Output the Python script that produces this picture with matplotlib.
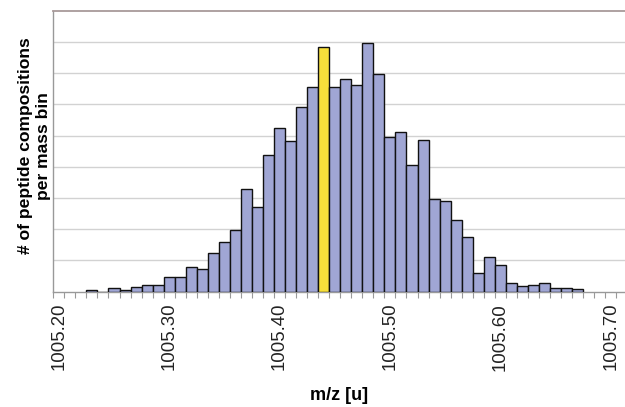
import matplotlib
matplotlib.use("Agg")
import matplotlib.pyplot as plt
from matplotlib.ticker import FixedLocator, FormatStrFormatter

plt.rcParams['font.family'] = ['Liberation Sans', 'DejaVu Sans']

# mass bins (bin centres, u) and bar heights (in grid-line units, no scale shown)
mz = [1005.23, 1005.24, 1005.25, 1005.26, 1005.27, 1005.28, 1005.29,
      1005.30, 1005.31, 1005.32, 1005.33, 1005.34, 1005.35, 1005.36,
      1005.37, 1005.38, 1005.39, 1005.40, 1005.41, 1005.42, 1005.43,
      1005.44, 1005.45, 1005.46, 1005.47, 1005.48, 1005.49, 1005.50,
      1005.51, 1005.52, 1005.53, 1005.54, 1005.55, 1005.56, 1005.57,
      1005.58, 1005.59, 1005.60, 1005.61, 1005.62, 1005.63, 1005.64,
      1005.65, 1005.66, 1005.67]
counts = [0.06, 0.0, 0.11, 0.06, 0.16, 0.20, 0.20,
          0.46, 0.46, 0.80, 0.72, 1.25, 1.60, 1.98,
          3.29, 2.70, 4.39, 5.24, 4.82, 5.92, 6.57,
          7.85, 6.57, 6.82, 6.61, 7.96, 6.98, 4.94,
          5.12, 4.06, 4.87, 2.96, 2.90, 2.30, 1.76,
          0.61, 1.12, 0.86, 0.29, 0.18, 0.21, 0.29,
          0.13, 0.13, 0.08]
highlight = 1005.44
tick_labels = [1005.20, 1005.30, 1005.40, 1005.50, 1005.60, 1005.70]

bar_color = '#a0a6d4'
hl_color = '#f7df3b'
colors = [hl_color if abs(m - highlight) < 1e-6 else bar_color for m in mz]

fig = plt.figure(figsize=(6.25, 4.07), dpi=100)
ax = fig.add_axes([0.0853, 0.2833, 0.9147, 0.6904])

ax.bar(mz, counts, width=0.01, color=colors, edgecolor='#111111',
       linewidth=1.0, zorder=3)

ax.set_xlim(1005.195, 1005.713)
ax.set_ylim(0, 9)

ax.yaxis.set_major_locator(FixedLocator(range(1, 9)))
ax.set_yticklabels([])
ax.tick_params(axis='y', length=0)
ax.grid(axis='y', color='#d2d2d2', linewidth=1.0, zorder=0)

ax.xaxis.set_major_locator(FixedLocator(tick_labels))
ax.xaxis.set_major_formatter(FormatStrFormatter('%.2f'))
edges = [1005.195 + 0.01 * j for j in range(53)]
ax.xaxis.set_minor_locator(FixedLocator(edges))
ax.tick_params(axis='x', which='major', length=0, pad=8, labelsize=13.4,
               labelrotation=90, labelcolor='#222222')
ax.tick_params(axis='x', which='minor', length=4, width=0.8, color='#999999')

for side in ['left', 'bottom']:
    ax.spines[side].set_color('#999999')
    ax.spines[side].set_linewidth(1.0)
ax.spines['top'].set_color('#a89a9a')
ax.spines['top'].set_linewidth(1.3)
ax.spines['right'].set_visible(False)

ax.set_xlabel('m/z [u]', fontsize=13, fontweight='bold', labelpad=12)
ax.set_ylabel('# of peptide compositions\nper mass bin', fontsize=12.6,
              fontweight='bold', linespacing=1.25)
ax.yaxis.set_label_coords(-0.004, 0.52)

fig.savefig('out.png', dpi=100)
